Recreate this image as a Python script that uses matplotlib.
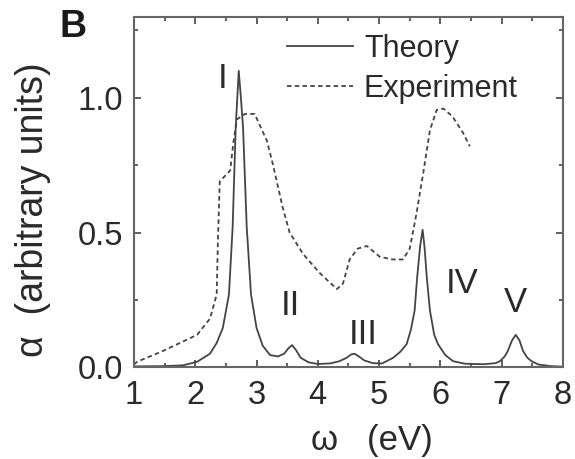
import matplotlib
matplotlib.use('Agg')
import matplotlib.pyplot as plt
from matplotlib.ticker import MultipleLocator

plt.rcParams['font.family'] = ['Liberation Sans', 'DejaVu Sans']

# theory curve
theory_x = [1.0, 1.5, 1.8, 2.03, 2.24, 2.35, 2.45, 2.55, 2.61, 2.66, 2.71, 2.745, 2.78,
            2.84, 2.91, 3.0, 3.1, 3.22, 3.35, 3.45, 3.52, 3.58, 3.64, 3.72, 3.85,
            4.0, 4.2, 4.35, 4.47, 4.55, 4.6, 4.67, 4.76, 4.9, 5.05, 5.23, 5.35,
            5.45, 5.52, 5.58, 5.62, 5.67, 5.71, 5.74, 5.78, 5.83, 5.9, 5.96, 6.08,
            6.21, 6.4, 6.7, 6.9, 6.97, 7.05, 7.1, 7.17, 7.23, 7.29, 7.35, 7.42,
            7.49, 7.6, 7.8, 8.0]
theory_y = [0.003, 0.004, 0.007, 0.02, 0.05, 0.09, 0.146, 0.27, 0.52, 0.89, 1.10, 1.0, 0.89,
            0.52, 0.27, 0.146, 0.08, 0.045, 0.04, 0.05, 0.07, 0.082, 0.065, 0.035, 0.018,
            0.012, 0.014, 0.022, 0.035, 0.048, 0.05, 0.04, 0.025, 0.015, 0.014, 0.035, 0.058,
            0.086, 0.14, 0.21, 0.33, 0.45, 0.51, 0.45, 0.33, 0.21, 0.12, 0.086, 0.045,
            0.022, 0.013, 0.011, 0.015, 0.022, 0.04, 0.06, 0.10, 0.12, 0.10, 0.06, 0.035,
            0.022, 0.01, 0.004, 0.002]

# experiment curve
exp_x = [1.0, 1.05, 1.47, 2.03, 2.24, 2.35, 2.37, 2.40, 2.57, 2.62, 2.68, 2.81, 2.97,
         3.17, 3.27, 3.35, 3.43, 3.54, 3.76, 4.03, 4.31, 4.41, 4.52, 4.65, 4.8,
         5.01, 5.22, 5.39, 5.50, 5.61, 5.72, 5.83, 5.94, 6.05, 6.2, 6.37, 6.48]
exp_y = [0.01, 0.02, 0.06, 0.12, 0.18, 0.27, 0.47, 0.69, 0.73, 0.83, 0.92, 0.94, 0.94,
         0.84, 0.75, 0.67, 0.59, 0.50, 0.42, 0.35, 0.29, 0.31, 0.40, 0.44, 0.45,
         0.41, 0.40, 0.40, 0.44, 0.57, 0.72, 0.88, 0.955, 0.96, 0.93, 0.87, 0.82]

peak_labels = ['I', 'II', 'III', 'IV', 'V']
peak_x = [2.45, 3.55, 4.74, 6.35, 7.22]
peak_y = [1.07, 0.23, 0.12, 0.31, 0.24]

col = '#444444'
txt = '#2a2a2a'
fig = plt.figure(figsize=(5.75, 4.59), dpi=100)
ax = fig.add_axes([0.233, 0.2, 0.746, 0.763])

ax.plot(theory_x, theory_y, color=col, lw=1.3, label='Theory')
ax.plot(exp_x, exp_y, color=col, lw=1.3, ls=(0, (2.5, 1.8)), label='Experiment')

for lab, px, py in zip(peak_labels, peak_x, peak_y):
    ax.text(px, py, lab, fontsize=25, color=txt, ha='center', va='center')

ax.set_xlim(1, 8)
ax.set_ylim(0, 1.3)
ax.xaxis.set_major_locator(MultipleLocator(1))
ax.xaxis.set_minor_locator(MultipleLocator(0.5))
ax.yaxis.set_major_locator(MultipleLocator(0.5))
ax.yaxis.set_minor_locator(MultipleLocator(0.25))
ax.tick_params(which='both', direction='in', top=True, right=True, colors=col,
               labelcolor=txt, labelsize=23.5, width=1.2)
ax.tick_params(which='major', length=5)
ax.tick_params(which='minor', length=3)
ax.tick_params(axis='x', pad=9)
ax.tick_params(axis='y', pad=8)
ax.set_yticks([0, 0.5, 1.0])
ax.set_yticklabels(['0.0', '0.5', '1.0'])
for s in ax.spines.values():
    s.set_color('#666666')
    s.set_linewidth(1.5)

fig.text(0.647, 0.041, 'ω   (eV)', fontsize=25, color=txt, ha='center', va='center')
fig.text(0.057, 0.5425, 'α  (arbitrary units)', fontsize=27, color=txt,
         ha='center', va='center', rotation=90)

ax.legend(loc='upper left', bbox_to_anchor=(0.499, 0.926), bbox_transform=fig.transFigure,
          frameon=False, fontsize=22, borderpad=0, borderaxespad=0,
          handlelength=2.17, handletextpad=0.35, labelspacing=0.32, labelcolor=txt)

fig.text(0.104, 0.981, 'B', fontsize=27, fontweight='bold', color='#1a1a1a', va='top')

fig.savefig('out.png', dpi=100)
